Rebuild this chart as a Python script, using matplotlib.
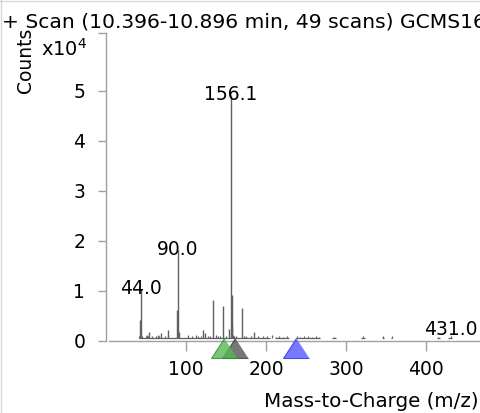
import numpy as np
import matplotlib
matplotlib.use('Agg')
from matplotlib import pyplot as plt
from matplotlib.transforms import ScaledTranslation
from matplotlib.lines import Line2D

TITLE = '+ Scan (10.396-10.896 min, 49 scans) GCMS16'

# centroid peaks (m/z, counts)
mz_major = [43, 44, 54, 69, 78, 89, 90, 91, 121, 124, 134, 146, 154, 156, 157, 158, 170, 185]
int_major = [3600, 9700, 1100, 1000, 1500, 5500, 17500, 1200, 1500, 1000, 7500, 6300, 1800, 48500, 2800, 8600, 6000, 1200]

mz_minor = [41, 42, 45, 50, 51, 53, 57, 63, 65, 66, 74, 77, 103, 107, 113, 115, 119,
            128, 130, 137, 140, 143, 150, 159, 160, 163, 172, 175, 181, 190, 196, 201, 207]
int_minor = [300, 250, 400, 250, 450, 300, 350, 300, 500, 250, 300, 450, 600, 350, 500, 400, 300,
             350, 300, 500, 250, 350, 300, 600, 400, 300, 350, 300, 250, 300, 250, 300, 450]

mz_trace = [213, 216, 221, 226, 239, 243, 248, 252, 257, 262, 266, 285, 321, 346, 357, 415, 431]
int_trace = [200, 250, 200, 250, 250, 200, 300, 250, 200, 250, 200, 200, 250, 250, 250, 200, 300]

# baseline stretches drawn under the sticks
base_start = [41, 211, 237, 283, 319, 345, 356, 414, 428]
base_end = [205, 229, 267, 287, 324, 347, 358, 418, 433]

labels_mz = [44, 90, 156, 431]
labels_txt = ['44.0', '90.0', '156.1', '431.0']

# precursor / marker triangles
tri_mz = [161, 147.5, 237]
tri_colors = ['#555555', '#55b955', '#5858ff']
tri_edges = ['#404040', '#2e8b2e', '#3030e0']

FS = 13.5
plt.rcParams['font.family'] = ['DejaVu Sans']
plt.rcParams['font.size'] = FS

W, H = 480, 413
Y0, YTOP = 340.7, 33
fig = plt.figure(figsize=(W / 100, H / 100), dpi=100)
ax = fig.add_axes([106 / W, (H - Y0) / H, 1 - 106 / W, (Y0 - YTOP) / H])

lift = ax.transData + ScaledTranslation(0, 3 / 100, fig.dpi_scale_trans)
stick_color = '#606060'
ax.hlines(np.zeros(len(base_start)), base_start, base_end, color=stick_color, lw=0.9, transform=lift)
ax.vlines(mz_minor, 0, int_minor, color=stick_color, lw=0.9, transform=lift)
ax.vlines(mz_trace, 0, int_trace, color=stick_color, lw=0.9, transform=lift)
ax.vlines(mz_major, 0, int_major, color=stick_color, lw=1.0, transform=lift)

heights = dict(zip(mz_major + mz_minor + mz_trace, int_major + int_minor + int_trace))
for m, t in zip(labels_mz, labels_txt):
    y = max(heights.get(m, 0), 1600)
    ax.annotate(t, (m, y), xytext=(0, -2), textcoords='offset pixels',
                ha='center', va='baseline', fontsize=FS)

tri_verts = [(0, 1), (-1.3, -1), (1.3, -1)]
for m, c, e in zip(tri_mz, tri_colors, tri_edges):
    ax.plot([m], [-1460], marker=tri_verts, markersize=18.7, color=c, alpha=0.8,
            markeredgecolor=e, markeredgewidth=0.8, clip_on=False, zorder=5)

ymax = (Y0 - YTOP) / 50 * 1e4
ax.set_xlim(0, (W - 106) / 0.8)
ax.set_ylim(0, ymax)

for s in ['top', 'right']:
    ax.spines[s].set_visible(False)
for s in ['left', 'bottom']:
    ax.spines[s].set_color('#a0a0a0')
    ax.spines[s].set_linewidth(1.0)
ax.spines['bottom'].set_bounds(4, 470)

ax.set_yticks([0, 1e4, 2e4, 3e4, 4e4, 5e4, ymax])
ax.set_yticklabels(['0', '1', '2', '3', '4', '5', ''])
ax.set_xticks([100, 200, 300, 400])
ax.set_xticklabels(['100', '200', '300', '400'])
ax.tick_params(axis='y', direction='out', length=6, width=1, color='#a0a0a0', pad=9)
ax.tick_params(axis='x', direction='out', length=7.2, width=1, color='#a0a0a0', pad=7)

fig.text(87 / W, 1 - 56 / H, 'x10$^4$', ha='right', va='baseline', fontsize=14)
fig.text(2 / W, 1 - 22 / H, TITLE, ha='left', va='center', fontsize=14.6)
fig.text(25 / W, 1 - 60 / H, 'Counts', rotation=90, ha='center', va='center', fontsize=FS)
fig.text(1 - 1 / W, 1 - 401.7 / H, 'Mass-to-Charge (m/z)', ha='right', va='center', fontsize=14.3)

# light frame on left and top
fig.add_artist(Line2D([0.5 / W, 0.5 / W], [0, 1], color='#d8d8d8', lw=1))
fig.add_artist(Line2D([0, 1], [1 - 0.5 / H, 1 - 0.5 / H], color='#d8d8d8', lw=1))

fig.savefig('out.png', dpi=100)
